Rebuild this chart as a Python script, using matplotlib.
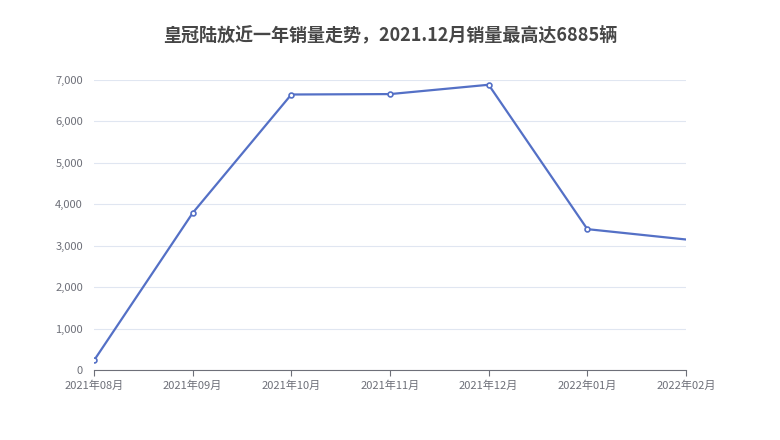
import matplotlib.pyplot as plt
from matplotlib.ticker import FuncFormatter

plt.rcParams['font.family'] = ['Noto Sans CJK SC', 'DejaVu Sans']

months = ['2021年08月', '2021年09月', '2021年10月', '2021年11月', '2021年12月', '2022年01月', '2022年02月']
sales = [230, 3790, 6650, 6660, 6885, 3400, 3150]

fig = plt.figure(figsize=(7.8, 4.4), dpi=100)
ax = fig.add_axes([94 / 780, 70 / 440, 592 / 780, 290 / 440])

x = list(range(len(months)))
ax.plot(x, sales, color='#5470c6', linewidth=1.6, zorder=3)
ax.plot(x[:-1], sales[:-1], 'o', markersize=3.5, markerfacecolor='white',
        markeredgecolor='#5470c6', markeredgewidth=1.2, zorder=4)

ax.set_xlim(0, len(months) - 1)
ax.set_ylim(0, 7000)
ax.set_yticks(range(0, 7001, 1000))
ax.yaxis.set_major_formatter(FuncFormatter(lambda v, p: f'{int(v):,}'))
ax.set_xticks(x)
ax.set_xticklabels(months)
ax.grid(axis='y', color='#e0e6f1', linewidth=0.8)
ax.set_axisbelow(True)
for s in ['top', 'right', 'left']:
    ax.spines[s].set_visible(False)
ax.spines['bottom'].set_color('#6e7079')
ax.tick_params(axis='y', length=0, labelsize=8, colors='#6e7079', pad=8)
ax.tick_params(axis='x', length=4, labelsize=8, colors='#6e7079', color='#6e7079')

fig.text(0.5, 0.92, '皇冠陆放近一年销量走势，2021.12月销量最高达6885辆', ha='center', va='center',
         fontsize=13, fontweight='bold', color='#464646')

fig.savefig('out.png', dpi=100)
